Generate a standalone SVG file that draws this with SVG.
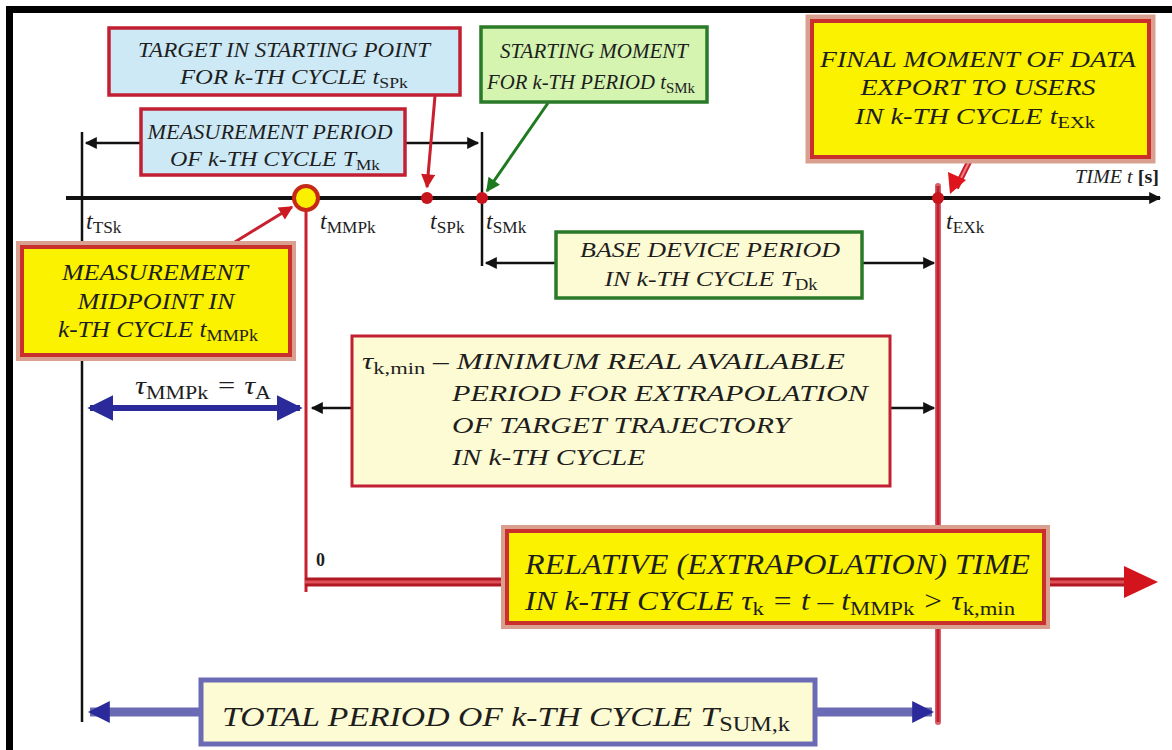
<svg xmlns="http://www.w3.org/2000/svg" width="1172" height="750" viewBox="0 0 1172 750">
<defs>
<style>
text{font-family:"Liberation Serif",serif;font-style:italic;fill:#1e1e1e}
.s{font-style:normal;font-size:72%}
.c{text-anchor:middle}
.bl{fill:#cde9f6;stroke:#c21f33;stroke-width:3.5}
.gr{fill:#d4f4b0;stroke:#2a7a2a;stroke-width:3.5}
.ly{fill:#fdfbd4;stroke:#c21f33;stroke-width:3}
.yl{fill:#fbf200;stroke:#c9302c;stroke-width:4}
.blk{stroke:#111;stroke-width:2.5;fill:none}
</style>
<marker id="ah" viewBox="0 0 10 10" refX="9" refY="5" markerWidth="14" markerHeight="12" markerUnits="userSpaceOnUse" orient="auto-start-reverse"><path d="M0,0L10,5L0,10z" fill="#111"/></marker>
<marker id="ar" viewBox="0 0 10 10" refX="9" refY="5" markerWidth="16" markerHeight="14" markerUnits="userSpaceOnUse" orient="auto"><path d="M0,0L10,5L0,10z" fill="#cc1a22"/></marker>
<marker id="ag" viewBox="0 0 10 10" refX="9" refY="5" markerWidth="16" markerHeight="14" markerUnits="userSpaceOnUse" orient="auto"><path d="M0,0L10,5L0,10z" fill="#1e7a1e"/></marker>
<marker id="ab" viewBox="0 0 10 10" refX="9" refY="5" markerWidth="26" markerHeight="28" markerUnits="userSpaceOnUse" orient="auto-start-reverse"><path d="M0,0L10,5L0,10z" fill="#2a2a9a"/></marker>
<marker id="ab2" viewBox="0 0 10 10" refX="9" refY="5" markerWidth="22" markerHeight="30" markerUnits="userSpaceOnUse" orient="auto-start-reverse"><path d="M0,0L10,5L0,10z" fill="#2a2a9a"/></marker>
</defs>
<rect width="1172" height="750" fill="#fff"/>
<rect x="6" y="6" width="1166" height="7" fill="#000"/>
<rect x="6" y="6" width="7" height="744" fill="#000"/>

<g id="connectors">
<line x1="82" y1="132" x2="82" y2="722" class="blk" stroke-width="2"/>
<line x1="482" y1="132" x2="482" y2="266" class="blk" stroke-width="2"/>
<line x1="66" y1="198" x2="1160" y2="198" stroke="#111" stroke-width="4" marker-end="url(#ah)"/>
<line x1="86" y1="143" x2="478" y2="143" class="blk" marker-start="url(#ah)" marker-end="url(#ah)"/>
<line x1="486" y1="263" x2="934" y2="263" class="blk" marker-start="url(#ah)" marker-end="url(#ah)"/>
<line x1="312" y1="408" x2="934" y2="408" class="blk" marker-start="url(#ah)" marker-end="url(#ah)"/>
<line x1="90" y1="408" x2="300" y2="408" stroke="#2a2a9a" stroke-width="6" marker-start="url(#ab)" marker-end="url(#ab)"/>
<line x1="90" y1="712" x2="932" y2="712" stroke="#6b6bb5" stroke-width="9" marker-start="url(#ab2)" marker-end="url(#ab2)"/>
<line x1="306" y1="210" x2="306" y2="592" stroke="#c8202e" stroke-width="3"/>
<line x1="938" y1="186" x2="938" y2="722" stroke="#d8606a" stroke-width="6" stroke-linecap="round"/>
<line x1="938" y1="186" x2="938" y2="722" stroke="#c21f33" stroke-width="3"/>
<line x1="305" y1="582" x2="1126" y2="582" stroke="#b01822" stroke-width="9"/>
<line x1="305" y1="582" x2="1126" y2="582" stroke="#e05058" stroke-width="3"/>
<path d="M1124,566L1158,582L1124,598z" fill="#d4141c"/>
<line x1="435" y1="96" x2="427" y2="187" stroke="#c8202e" stroke-width="3" marker-end="url(#ar)"/>
<line x1="548" y1="103" x2="487" y2="191" stroke="#1e7a1e" stroke-width="3" marker-end="url(#ag)"/>
<line x1="230" y1="245" x2="292" y2="207" stroke="#c8202e" stroke-width="3" marker-end="url(#ar)"/>
<line x1="970" y1="160" x2="956" y2="188" stroke="#c8202e" stroke-width="6"/>
<line x1="970" y1="160" x2="958" y2="184" stroke="#f08080" stroke-width="2"/>
<path d="M948,172L966,180L950,194z" fill="#e0141c"/>
<circle cx="427" cy="198" r="6" fill="#c8141c"/>
<circle cx="482" cy="198" r="6" fill="#c8141c"/>
<circle cx="938" cy="198" r="6" fill="#c8141c"/>
</g>

<g id="mmp-point">
<circle cx="306" cy="198" r="12" fill="#fbf000" stroke="#c62a16" stroke-width="4"/>
</g>

<g id="axis-labels">
<text x="1075" y="183" font-size="19" textLength="84" lengthAdjust="spacingAndGlyphs">TIME <tspan>t</tspan> <tspan font-style="normal" font-weight="bold">[s]</tspan></text>
<text x="86" y="229" font-size="24">t<tspan class="s" dy="4">TSk</tspan></text>
<text x="320" y="229" font-size="24">t<tspan class="s" dy="4">MMPk</tspan></text>
<text x="430" y="229" font-size="24">t<tspan class="s" dy="4">SPk</tspan></text>
<text x="486" y="229" font-size="24">t<tspan class="s" dy="4">SMk</tspan></text>
<text x="946" y="229" font-size="24">t<tspan class="s" dy="4">EXk</tspan></text>
<text x="316" y="566" font-size="18" style="font-style:normal;font-weight:bold">0</text>
<text x="135" y="394" font-size="25" textLength="136" lengthAdjust="spacingAndGlyphs">τ<tspan class="s" dy="5">MMPk</tspan><tspan dy="-5"> = τ</tspan><tspan class="s" dy="5">A</tspan></text>
</g>

<g id="target-box">
<rect x="109" y="28" width="351" height="67" class="bl"/>
<text class="c" x="284" y="57" font-size="20" textLength="292" lengthAdjust="spacingAndGlyphs">TARGET IN STARTING POINT</text>
<text class="c" x="294" y="84" font-size="20" textLength="228" lengthAdjust="spacingAndGlyphs">FOR k-TH CYCLE t<tspan class="s" dy="4">SPk</tspan></text>
</g>

<g id="measurement-period">
<rect x="141" y="109" width="264" height="66" class="bl"/>
<text class="c" x="270" y="139" font-size="21" textLength="245" lengthAdjust="spacingAndGlyphs">MEASUREMENT PERIOD</text>
<text class="c" x="275" y="166" font-size="21" textLength="210" lengthAdjust="spacingAndGlyphs">OF k-TH CYCLE T<tspan class="s" dy="4">Mk</tspan></text>
</g>

<g id="starting-moment">
<rect x="481" y="27" width="226" height="75" class="gr"/>
<text class="c" x="594" y="58" font-size="22" textLength="188" lengthAdjust="spacingAndGlyphs">STARTING MOMENT</text>
<text x="487" y="89" font-size="20" textLength="208" lengthAdjust="spacingAndGlyphs">FOR k-TH PERIOD t<tspan class="s" dy="4">SMk</tspan></text>
</g>

<g id="final-moment">
<rect x="809" y="18" width="343" height="142" fill="none" stroke="#d9a090" stroke-width="7"/>
<rect x="812" y="21" width="337" height="136" class="yl"/>
<text class="c" x="978" y="67" font-size="23" textLength="316" lengthAdjust="spacingAndGlyphs">FINAL MOMENT OF DATA</text>
<text class="c" x="978" y="95" font-size="23" textLength="235" lengthAdjust="spacingAndGlyphs">EXPORT TO USERS</text>
<text class="c" x="975" y="124" font-size="23" textLength="240" lengthAdjust="spacingAndGlyphs">IN k-TH CYCLE  t<tspan class="s" dy="4">EXk</tspan></text>
</g>

<g id="midpoint-box">
<rect x="19" y="244" width="274" height="114" fill="none" stroke="#d9a090" stroke-width="6"/>
<rect x="22" y="247" width="268" height="108" class="yl"/>
<text class="c" x="155" y="280" font-size="24" textLength="186" lengthAdjust="spacingAndGlyphs">MEASUREMENT</text>
<text class="c" x="156" y="309" font-size="24" textLength="157" lengthAdjust="spacingAndGlyphs">MIDPOINT IN</text>
<text class="c" x="158" y="337" font-size="24" textLength="200" lengthAdjust="spacingAndGlyphs">k-TH CYCLE t<tspan class="s" dy="4">MMPk</tspan></text>
</g>

<g id="base-device">
<rect x="556" y="232" width="306" height="66" fill="#fdfbd4" stroke="#2a7a2a" stroke-width="3.5"/>
<text class="c" x="710" y="257" font-size="22" textLength="260" lengthAdjust="spacingAndGlyphs">BASE DEVICE PERIOD</text>
<text class="c" x="711" y="286" font-size="22" textLength="213" lengthAdjust="spacingAndGlyphs">IN k-TH CYCLE T<tspan class="s" dy="4">Dk</tspan></text>
</g>

<g id="tau-min-box">
<rect x="352" y="336" width="538" height="150" class="ly"/>
<text x="362" y="369" font-size="24" textLength="483" lengthAdjust="spacingAndGlyphs">τ<tspan class="s" dy="5">k,min</tspan><tspan dy="-5"> – MINIMUM REAL AVAILABLE</tspan></text>
<text x="452" y="401" font-size="24" textLength="416" lengthAdjust="spacingAndGlyphs">PERIOD FOR EXTRAPOLATION</text>
<text x="452" y="433" font-size="24" textLength="338" lengthAdjust="spacingAndGlyphs">OF TARGET TRAJECTORY</text>
<text x="452" y="465" font-size="24" textLength="193" lengthAdjust="spacingAndGlyphs">IN k-TH CYCLE</text>
</g>

<g id="relative-time">
<rect x="504" y="528" width="543" height="98" fill="none" stroke="#d9a090" stroke-width="6"/>
<rect x="507" y="531" width="537" height="92" class="yl"/>
<text x="525" y="574" font-size="29" textLength="505" lengthAdjust="spacingAndGlyphs">RELATIVE (EXTRAPOLATION) TIME</text>
<text x="525" y="610" font-size="27" textLength="490" lengthAdjust="spacingAndGlyphs">IN k-TH CYCLE  τ<tspan class="s" dy="5">k</tspan><tspan dy="-5"> = t – t</tspan><tspan class="s" dy="5">MMPk</tspan><tspan dy="-5"> &gt; τ</tspan><tspan class="s" dy="5">k,min</tspan></text>
</g>

<g id="total-period">
<rect x="201" y="680" width="614" height="64" fill="#fdfbd4" stroke="#6b6bb5" stroke-width="5"/>
<text x="222" y="726" font-size="28" textLength="568" lengthAdjust="spacingAndGlyphs">TOTAL PERIOD OF k-TH CYCLE T<tspan class="s" dy="5">SUM,k</tspan></text>
</g>
</svg>
